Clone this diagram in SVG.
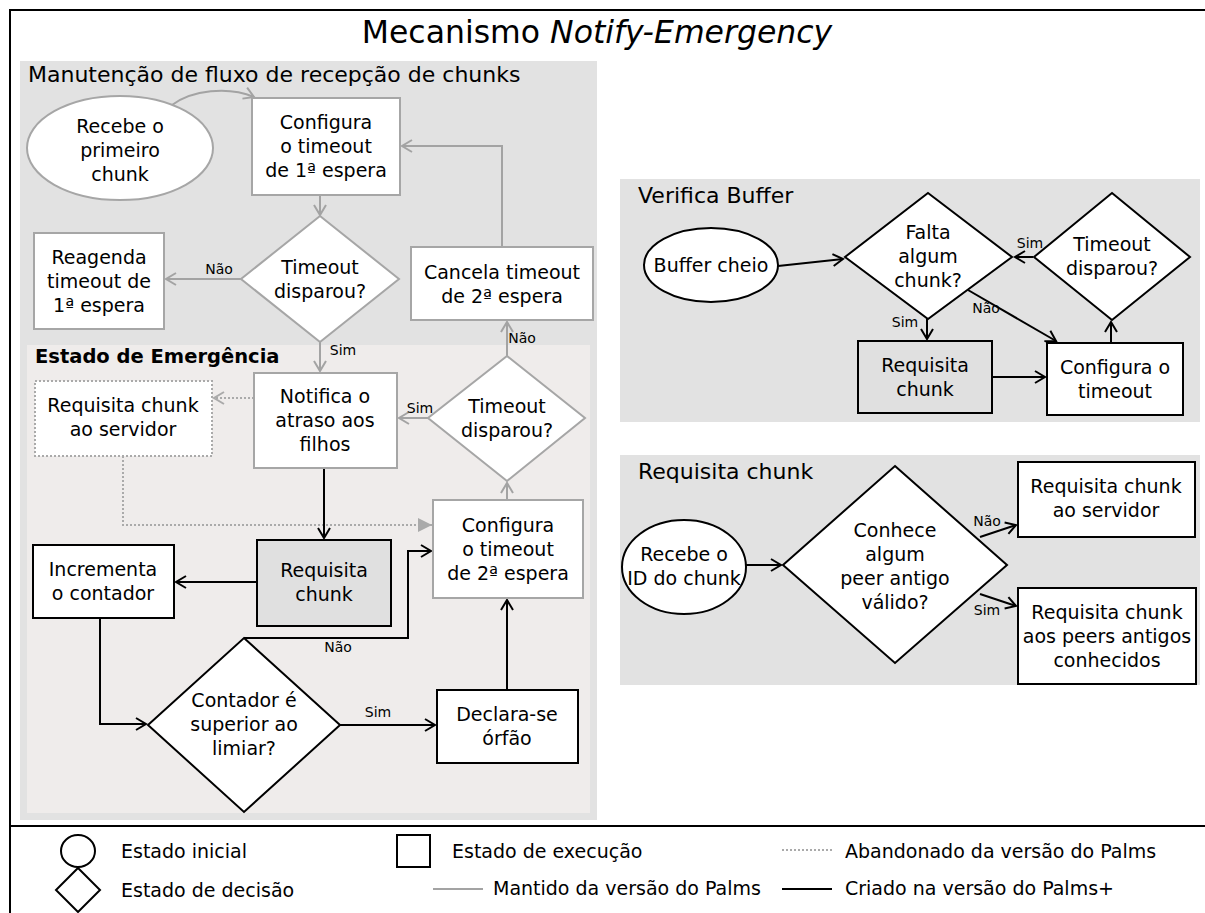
<svg xmlns="http://www.w3.org/2000/svg" width="1205" height="913" viewBox="0 0 1205 913">
  <defs>
    <style>
      text { font-family: "DejaVu Sans", "Liberation Sans", sans-serif; fill: #000; }
      .t { font-size: 19px; text-anchor: middle; }
      .lbl { font-size: 14px; text-anchor: middle; }
      .ptitle { font-size: 22px; }
      .leg { font-size: 19px; }
      .panel { fill: #e2e2e2; }
      .emerg { fill: #efeceb; }
      .nk { fill: #fff; stroke: #000; stroke-width: 2; }
      .ng { fill: #fff; stroke: #a6a6a6; stroke-width: 2; }
      .nd { fill: #fff; stroke: #aaa; stroke-width: 2; stroke-dasharray: 2 2; }
      .shaded { fill: #e0e0e0; }
      .ck { fill: none; stroke: #000; stroke-width: 2; marker-end: url(#ak); }
      .cg { fill: none; stroke: #a3a3a3; stroke-width: 2; marker-end: url(#ag); }
      .cd { fill: none; stroke: #aaa; stroke-width: 2; stroke-dasharray: 2 2; }
    </style>
    <marker id="ak" markerUnits="userSpaceOnUse" markerWidth="14" markerHeight="14" refX="11" refY="7" orient="auto">
      <path d="M1,1 L11,7 L1,13" fill="none" stroke="#000" stroke-width="2"/>
    </marker>
    <marker id="ag" markerUnits="userSpaceOnUse" markerWidth="14" markerHeight="14" refX="11" refY="7" orient="auto">
      <path d="M1,1 L11,7 L1,13" fill="none" stroke="#a3a3a3" stroke-width="2"/>
    </marker>
    <marker id="agd" markerUnits="userSpaceOnUse" markerWidth="14" markerHeight="14" refX="11" refY="7" orient="auto">
      <path d="M1,1 L11,7 L1,13" fill="none" stroke="#aaa" stroke-width="2"/>
    </marker>
    <marker id="atri" markerUnits="userSpaceOnUse" markerWidth="16" markerHeight="16" refX="14" refY="8" orient="auto">
      <path d="M0,1 L14,8 L0,15 Z" fill="#aaa"/>
    </marker>
  </defs>

  <rect width="1205" height="913" fill="#fff"/>

  <!-- frame -->
  <g id="frame" fill="none" stroke="#000" stroke-width="2">
    <path d="M10,913 V10 H1205"/>
    <path d="M10,826 H1205"/>
  </g>

  <text x="597" y="43" font-size="31.5" text-anchor="middle">Mecanismo <tspan font-style="italic">Notify-Emergency</tspan></text>

  <!-- panels -->
  <g id="panel-manutencao">
    <rect class="panel" x="20" y="61" width="577" height="759"/>
    <text class="ptitle" x="28" y="82">Manutenção de fluxo de recepção de chunks</text>
    <rect class="emerg" x="27" y="345" width="563" height="468"/>
    <text x="35" y="363" font-size="19.5" font-weight="bold">Estado de Emergência</text>
  </g>
  <g id="panel-verifica">
    <rect class="panel" x="620" y="179" width="580" height="243"/>
    <text class="ptitle" x="638" y="203">Verifica Buffer</text>
  </g>
  <g id="panel-requisita">
    <rect class="panel" x="620" y="455" width="580" height="230"/>
    <text class="ptitle" x="638" y="479">Requisita chunk</text>
  </g>

  <!-- connectors -->
  <g id="connectors">
    <path class="cg" d="M172,105 C192,90 228,86 254,97"/>
    <path class="cg" d="M320,195 V215"/>
    <path class="cg" d="M241,279 H166"/>
    <path class="cg" d="M320,342 V371"/>
    <path class="cg" d="M502,247 V146 H402"/>
    <path class="cg" d="M428,418 H399"/>
    <path class="cg" d="M507,356 V322"/>
    <path class="cg" d="M507,500 V483"/>
    <path class="cd" d="M254,398 H214" marker-end="url(#agd)"/>
    <path class="cd" d="M123,456 V525 H432" marker-end="url(#atri)"/>

    <path class="ck" d="M324,468 V538"/>
    <path class="ck" d="M257,582 H176"/>
    <path class="ck" d="M100,618 V724 H146"/>
    <path class="ck" d="M244,638 H408 V551 H431"/>
    <path class="ck" d="M340,725 H435"/>
    <path class="ck" d="M507,690 V600"/>

    <path class="ck" d="M778,266 L843,259"/>
    <path class="ck" d="M927,319 V339"/>
    <path class="ck" d="M968,290 L1056,341"/>
    <path class="ck" d="M991,377 H1045"/>
    <path class="ck" d="M1111,343 V322"/>
    <path class="ck" d="M1033,257 H1015"/>
    <path class="ck" d="M745,565 H781"/>
    <path class="ck" d="M980,537 L1016,525"/>
    <path class="ck" d="M980,594 L1016,606"/>

    <text class="lbl" x="219" y="274">Não</text>
    <text class="lbl" x="343" y="355">Sim</text>
    <text class="lbl" x="522" y="343">Não</text>
    <text class="lbl" x="420" y="413">Sim</text>
    <text class="lbl" x="338" y="652">Não</text>
    <text class="lbl" x="378" y="717">Sim</text>
    <text class="lbl" x="905" y="327">Sim</text>
    <text class="lbl" x="986" y="313">Não</text>
    <text class="lbl" x="1030" y="248">Sim</text>
    <text class="lbl" x="987" y="526">Não</text>
    <text class="lbl" x="987" y="615">Sim</text>
  </g>

  <!-- nodes: Manutenção -->
  <g id="n-recebe-primeiro">
    <ellipse class="ng" cx="120" cy="148" rx="93" ry="52"/>
    <text class="t" x="120" y="133">Recebe o<tspan x="120" dy="24">primeiro</tspan><tspan x="120" dy="24">chunk</tspan></text>
  </g>
  <g id="n-configura-1">
    <rect class="ng" x="252" y="98" width="148" height="97"/>
    <text class="t" x="326" y="129">Configura<tspan x="326" dy="24">o timeout</tspan><tspan x="326" dy="24">de 1ª espera</tspan></text>
  </g>
  <g id="n-timeout-1">
    <polygon class="ng" points="320,216 399,279 320,342 241,279"/>
    <text class="t" x="320" y="274">Timeout<tspan x="320" dy="24">disparou?</tspan></text>
  </g>
  <g id="n-reagenda">
    <rect class="ng" x="34" y="233" width="130" height="96"/>
    <text class="t" x="99" y="264">Reagenda<tspan x="99" dy="24">timeout de</tspan><tspan x="99" dy="24">1ª espera</tspan></text>
  </g>
  <g id="n-cancela">
    <rect class="ng" x="411" y="247" width="182" height="73"/>
    <text class="t" x="502" y="279">Cancela timeout<tspan x="502" dy="24">de 2ª espera</tspan></text>
  </g>

  <!-- nodes: Estado de Emergência -->
  <g id="n-notifica">
    <rect class="ng" x="254" y="373" width="143" height="95"/>
    <text class="t" x="325" y="403">Notifica o<tspan x="325" dy="24">atraso aos</tspan><tspan x="325" dy="24">filhos</tspan></text>
  </g>
  <g id="n-timeout-2">
    <polygon class="ng" points="507,356 585,418 507,481 428,418"/>
    <text class="t" x="507" y="413">Timeout<tspan x="507" dy="24">disparou?</tspan></text>
  </g>
  <g id="n-requisita-servidor-old">
    <rect class="nd" x="35" y="381" width="177" height="75"/>
    <text class="t" x="123" y="412">Requisita chunk<tspan x="123" dy="24">ao servidor</tspan></text>
  </g>
  <g id="n-configura-2">
    <rect class="ng" x="433" y="500" width="150" height="98"/>
    <text class="t" x="508" y="532">Configura<tspan x="508" dy="24">o timeout</tspan><tspan x="508" dy="24">de 2ª espera</tspan></text>
  </g>
  <g id="n-requisita-chunk">
    <rect class="nk shaded" x="257" y="540" width="134" height="86"/>
    <text class="t" x="324" y="577">Requisita<tspan x="324" dy="24">chunk</tspan></text>
  </g>
  <g id="n-incrementa">
    <rect class="nk" x="33" y="545" width="141" height="73"/>
    <text class="t" x="103" y="576">Incrementa<tspan x="103" dy="24">o contador</tspan></text>
  </g>
  <g id="n-contador">
    <polygon class="nk" points="244,638 340,725 244,812 148,725"/>
    <text class="t" x="244" y="707">Contador é<tspan x="244" dy="24">superior ao</tspan><tspan x="244" dy="24">limiar?</tspan></text>
  </g>
  <g id="n-declara">
    <rect class="nk" x="437" y="690" width="141" height="73"/>
    <text class="t" x="507" y="721">Declara-se<tspan x="507" dy="24">órfão</tspan></text>
  </g>

  <!-- nodes: Verifica Buffer -->
  <g id="n-buffer-cheio">
    <ellipse class="nk" cx="711" cy="265" rx="67" ry="37"/>
    <text class="t" x="711" y="272">Buffer cheio</text>
  </g>
  <g id="n-falta">
    <polygon class="nk" points="928,193 1012,257 928,319 845,257"/>
    <text class="t" x="928" y="239">Falta<tspan x="928" dy="24">algum</tspan><tspan x="928" dy="24">chunk?</tspan></text>
  </g>
  <g id="n-timeout-vb">
    <polygon class="nk" points="1112,193 1190,257 1112,320 1034,257"/>
    <text class="t" x="1112" y="251">Timeout<tspan x="1112" dy="24">disparou?</tspan></text>
  </g>
  <g id="n-requisita-vb">
    <rect class="nk shaded" x="858" y="341" width="134" height="72"/>
    <text class="t" x="925" y="372">Requisita<tspan x="925" dy="24">chunk</tspan></text>
  </g>
  <g id="n-configura-vb">
    <rect class="nk" x="1047" y="343" width="136" height="72"/>
    <text class="t" x="1115" y="374">Configura o<tspan x="1115" dy="24">timeout</tspan></text>
  </g>

  <!-- nodes: Requisita chunk -->
  <g id="n-recebe-id">
    <ellipse class="nk" cx="684" cy="567" rx="62" ry="47"/>
    <text class="t" x="684" y="561">Recebe o<tspan x="684" dy="24">ID do chunk</tspan></text>
  </g>
  <g id="n-conhece">
    <polygon class="nk" points="895,466 1007,565 895,663 783,565"/>
    <text class="t" x="895" y="537">Conhece<tspan x="895" dy="24">algum</tspan><tspan x="895" dy="24">peer antigo</tspan><tspan x="895" dy="24">válido?</tspan></text>
  </g>
  <g id="n-req-servidor">
    <rect class="nk" x="1018" y="462" width="177" height="75"/>
    <text class="t" x="1106" y="493">Requisita chunk<tspan x="1106" dy="24">ao servidor</tspan></text>
  </g>
  <g id="n-req-peers">
    <rect class="nk" x="1018" y="588" width="178" height="96"/>
    <text class="t" x="1107" y="619">Requisita chunk<tspan x="1107" dy="24">aos peers antigos</tspan><tspan x="1107" dy="24">conhecidos</tspan></text>
  </g>

  <!-- legend -->
  <g id="legend">
    <ellipse cx="78" cy="851" rx="17" ry="16" fill="#fff" stroke="#000" stroke-width="2"/>
    <text class="leg" x="121" y="858">Estado inicial</text>
    <rect x="397" y="835" width="33" height="32" fill="#fff" stroke="#000" stroke-width="2"/>
    <text class="leg" x="452" y="858">Estado de execução</text>
    <path d="M782,850 H832" class="cd"/>
    <text class="leg" x="845" y="858">Abandonado da versão do Palms</text>
    <polygon points="78,868 100,890 78,912 56,890" fill="#fff" stroke="#000" stroke-width="2"/>
    <text class="leg" x="121" y="897">Estado de decisão</text>
    <path d="M433,889 H483" fill="none" stroke="#a3a3a3" stroke-width="2"/>
    <text class="leg" x="493" y="895">Mantido da versão do Palms</text>
    <path d="M782,889 H832" fill="none" stroke="#000" stroke-width="2"/>
    <text class="leg" x="845" y="895">Criado na versão do Palms+</text>
  </g>
</svg>
